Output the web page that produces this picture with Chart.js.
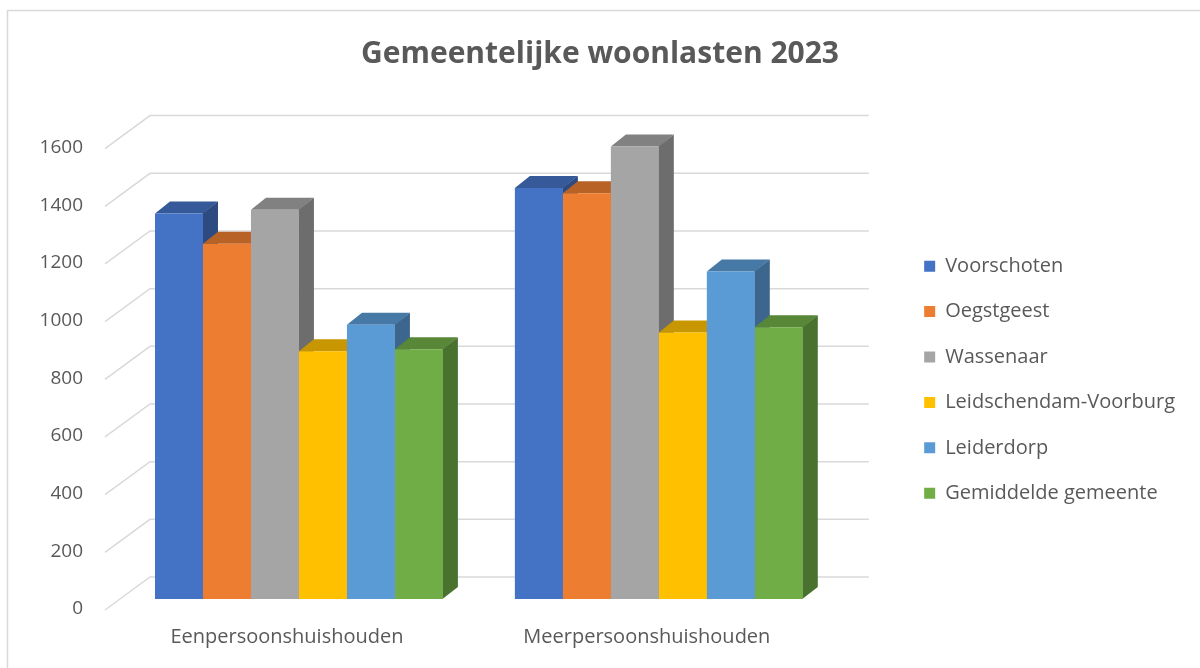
<!DOCTYPE html>
<html>
<head>
<meta charset="utf-8">
<script src="https://cdn.jsdelivr.net/npm/chart.js@4"></script>
<style>
  html, body { margin: 0; padding: 0; background: #fff; }
</style>
</head>
<body>
<canvas id="woonlasten" width="1200" height="668"></canvas>
<script>
// data
const huishoudens = ['Eenpersoonshuishouden', 'Meerpersoonshuishouden'];
const gemeenten = ['Voorschoten', 'Oegstgeest', 'Wassenaar', 'Leidschendam-Voorburg', 'Leiderdorp', 'Gemiddelde gemeente'];
const voorschoten = [1337, 1425];
const oegstgeest = [1232, 1407];
const wassenaar = [1350, 1569];
const leidschendamVoorburg = [859, 924];
const leiderdorp = [951, 1136];
const gemiddeldeGemeente = [866, 942];
const yTicks = [0, 200, 400, 600, 800, 1000, 1200, 1400, 1600];

const kleuren = ['#4472C4', '#ED7D31', '#A5A5A5', '#FFC000', '#5B9BD5', '#70AD47'];
const tekstKleur = '#595959';
const lijnKleur = '#D9D9D9';
const letter = 'Open Sans';

function donkerder(hex, f) {
    const n = parseInt(hex.slice(1), 16);
    const r = Math.round(((n >> 16) & 255) * f);
    const g = Math.round(((n >> 8) & 255) * f);
    const b = Math.round((n & 255) * f);
    return 'rgb(' + r + ',' + g + ',' + b + ')';
}

const DX = 15, DY = -12;   // depth of the fake 3d

// frame, back wall grid and the 3d top/side faces behind the front faces
const driedee = {
    id: 'driedee',
    beforeDraw(chart) {
        const ctx = chart.ctx;
        ctx.save();
        ctx.strokeStyle = lijnKleur;
        ctx.lineWidth = 1.5;
        ctx.beginPath();
        ctx.moveTo(7.5, chart.height + 2);
        ctx.lineTo(7.5, 10.5);
        ctx.lineTo(chart.width + 2, 10.5);
        ctx.stroke();
        ctx.restore();
    },
    beforeDatasetsDraw(chart) {
        const ctx = chart.ctx;
        const area = chart.chartArea;
        const yS = chart.scales.y;
        ctx.save();
        ctx.strokeStyle = lijnKleur;
        ctx.lineWidth = 1.5;
        yTicks.forEach(v => {
            const yf = yS.getPixelForValue(v);
            const yb = yf - 22;
            ctx.beginPath();
            ctx.moveTo(area.left - 14, yf + 11);
            ctx.lineTo(area.left + 31, yb);
            ctx.lineTo(area.right + 30, yb);
            ctx.stroke();
        });
        chart.data.datasets.forEach((ds, di) => {
            const meta = chart.getDatasetMeta(di);
            meta.data.forEach(bar => {
                const p = bar.getProps(['x', 'y', 'base', 'width'], true);
                const l = p.x - p.width / 2, r = p.x + p.width / 2;
                ctx.fillStyle = donkerder(kleuren[di], 0.78);
                ctx.beginPath();
                ctx.moveTo(l, p.y);
                ctx.lineTo(r, p.y);
                ctx.lineTo(r + DX, p.y + DY);
                ctx.lineTo(l + DX, p.y + DY);
                ctx.closePath();
                ctx.fill();
                ctx.fillStyle = donkerder(kleuren[di], 0.66);
                ctx.beginPath();
                ctx.moveTo(r - 0.5, p.y);
                ctx.lineTo(r + DX, p.y + DY);
                ctx.lineTo(r + DX, p.base + DY);
                ctx.lineTo(r - 0.5, p.base);
                ctx.closePath();
                ctx.fill();
            });
        });
        ctx.restore();
    }
};

const reeksen = [voorschoten, oegstgeest, wassenaar, leidschendamVoorburg, leiderdorp, gemiddeldeGemeente];

const data = {
    labels: huishoudens,
    datasets: gemeenten.map((naam, i) => ({
        label: naam,
        data: reeksen[i],
        backgroundColor: kleuren[i],
        borderWidth: 0,
        categoryPercentage: 0.8,
        barPercentage: 1.0
    }))
};

const config = {
    type: 'bar',
    data: data,
    options: {
        responsive: false,
        animation: false,
        layout: { padding: { left: 15, right: 15, top: 0, bottom: 0 } },
        plugins: {
            title: {
                display: true,
                text: 'Gemeentelijke woonlasten 2023',
                color: tekstKleur,
                font: { family: letter, size: 30, weight: 'bold' },
                padding: { top: 36, bottom: 65.6 }
            },
            legend: {
                position: 'right',
                maxWidth: 400,
                title: { display: true, text: ' ', padding: { top: 0, bottom: 77 } },
                labels: {
                    color: tekstKleur,
                    font: { family: letter, size: 20 },
                    boxWidth: 11,
                    boxHeight: 11,
                    padding: 25.4
                }
            },
            tooltip: { enabled: false }
        },
        scales: {
            x: {
                grid: { display: false },
                border: { display: false },
                ticks: {
                    color: tekstKleur,
                    font: { family: letter, size: 20 },
                    padding: 18,
                    labelOffset: -12
                },
                afterFit: s => { s.height = 69; }
            },
            y: {
                min: 0,
                max: 1600,
                grid: { display: false, drawTicks: false },
                border: { display: false },
                ticks: {
                    stepSize: 200,
                    color: tekstKleur,
                    font: { family: letter, size: 19 },
                    padding: 36,
                    labelOffset: 10,
                    callback: v => String(v)
                },
                afterFit: s => { s.width = 104; }
            },
            ruimte: {
                position: 'right',
                grid: { display: false, drawTicks: false },
                border: { display: false },
                ticks: { display: false },
                afterFit: s => { s.width = 60; }
            }
        }
    },
    plugins: [driedee]
};

new Chart(document.getElementById('woonlasten').getContext('2d'), config);
</script>
</body>
</html>
